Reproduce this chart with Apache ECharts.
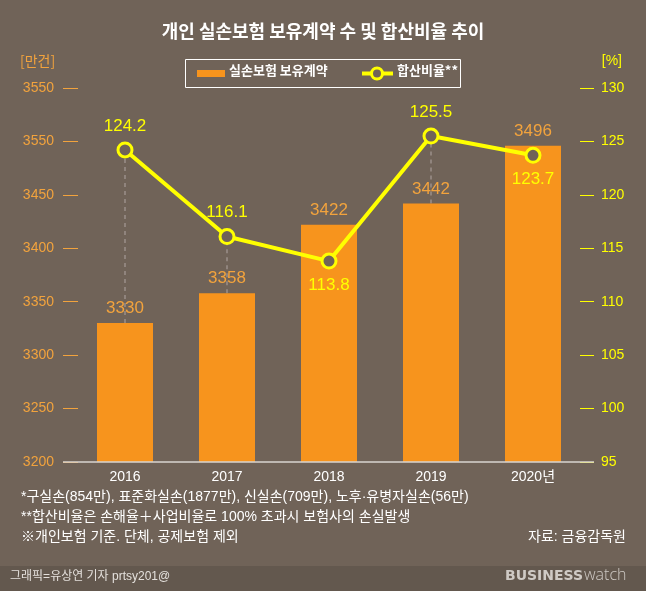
<!DOCTYPE html>
<html><head><meta charset="utf-8">
<script src="https://cdn.jsdelivr.net/npm/echarts@6/dist/echarts.min.js"></script>
<style>html,body{margin:0;padding:0;background:#706358;}#c{width:646px;height:591px;}</style>
</head><body><div id="c"></div>
<script>
const categories = ['2016', '2017', '2018', '2019', '2020년'];
const contracts = [3330, 3358, 3422, 3442, 3496];
const ratio = [124.2, 116.1, 113.8, 125.5, 123.7];
const ratioLabelPos = ['top', 'top', 'bottom', 'top', 'bottom'];
const leftTicks = {3200:'3200',3250:'3250',3300:'3300',3350:'3350',3400:'3400',3450:'3450',3500:'3550',3550:'3550'};
const notes = [
  '*구실손(854만), 표준화실손(1877만), 신실손(709만), 노후·유병자실손(56만)',
  '**합산비율은 손해율＋사업비율로 100% 초과시 보험사의 손실발생',
  '※개인보험 기준. 단체, 공제보험 제외'
];
const source = '자료: 금융감독원';
const credit = '그래픽=유상연 기자 prtsy201@';
const title = '개인 실손보험 보유계약 수 및 합산비율 추이';

const F = '"Noto Sans CJK KR", "Noto Sans", sans-serif';
const FL = '"Liberation Sans", "Noto Sans CJK KR", sans-serif';
const BG = '#706358';
const ORANGE = '#f7941d';
const ORANGE_TXT = '#f2a33d';
const YELLOW = '#ffff00';

// left 3200..3550 maps to right 95..130
const toRight = v => 95 + (v - 3200) / 10;
const dashData = [];
categories.forEach((c, i) => {
  const top = toRight(contracts[i]);
  if (ratio[i] > top) dashData.push([{xAxis: i, yAxis: top}, {xAxis: i, yAxis: ratio[i]}]);
});

const chart = echarts.init(document.getElementById('c'));
chart.setOption({
  backgroundColor: BG,
  animation: false,
  textStyle: {fontFamily: F},
  title: {text: title, left: 'center', top: 17, textStyle: {color: '#fff', fontSize: 18, fontWeight: 'bold', fontFamily: F}},
  grid: {left: 74, right: 62, top: 88, bottom: 129},
  xAxis: {
    type: 'category', data: categories,
    axisLine: {show: false}, axisTick: {show: false},
    axisLabel: {color: '#fff', fontSize: 14, margin: 8, fontFamily: FL}
  },
  yAxis: [{
    type: 'value', min: 3200, max: 3550, interval: 50, offset: -4,
    splitLine: {show: false},
    axisLine: {show: false},
    axisTick: {show: true, length: 15, lineStyle: {color: ORANGE_TXT, width: 1}},
    axisLabel: {color: ORANGE_TXT, fontSize: 14, margin: 24, formatter: v => leftTicks[v] ?? v, fontFamily: FL}
  }, {
    type: 'value', min: 95, max: 130, interval: 5, offset: -4,
    splitLine: {show: false},
    axisLine: {show: false},
    axisTick: {show: true, length: 14, lineStyle: {color: YELLOW, width: 1}},
    axisLabel: {color: YELLOW, fontSize: 14, margin: 21, fontFamily: FL}
  }],
  series: [{
    type: 'bar', data: contracts, barWidth: 56, yAxisIndex: 0,
    itemStyle: {color: ORANGE},
    label: {show: true, position: 'top', distance: 6, color: ORANGE_TXT, fontSize: 17, fontFamily: FL}
  }, {
    type: 'line', yAxisIndex: 1, z: 5,
    data: ratio.map((v, i) => ({value: v, label: {position: ratioLabelPos[i]}})),
    symbol: 'circle', symbolSize: 14,
    lineStyle: {color: YELLOW, width: 4},
    itemStyle: {color: BG, borderColor: YELLOW, borderWidth: 3},
    label: {show: true, color: YELLOW, fontSize: 17, distance: 7, fontFamily: FL},
    markLine: {
      silent: true, symbol: 'none', z: 1,
      lineStyle: {type: [4, 4], color: '#9b9089', width: 1.5},
      label: {show: false},
      data: dashData
    }
  }],
  graphic: [
    {type: 'rect', left: 0, top: 566, shape: {width: 646, height: 25}, style: {fill: '#63584e'}, z: -1},
    {type: 'line', shape: {x1: 63, y1: 462, x2: 594, y2: 462}, style: {stroke: '#d8d4d0', lineWidth: 1.5}, z: 10},
    {type: 'text', left: 20, top: 54, style: {text: '[만건]', fill: ORANGE_TXT, fontSize: 14, fontFamily: F}},
    {type: 'text', right: 24, top: 54, style: {text: '[%]', fill: YELLOW, fontSize: 14, fontFamily: FL}},
    {type: 'rect', shape: {x: 185.5, y: 59.5, width: 275, height: 28}, style: {fill: 'none', stroke: '#fff', lineWidth: 1}},
    {type: 'rect', shape: {x: 197, y: 70, width: 28, height: 7}, style: {fill: ORANGE}},
    {type: 'text', left: 229, top: 64, style: {text: '실손보험 보유계약', fill: '#fff', fontSize: 13, fontWeight: 'bold', fontFamily: F}},
    {type: 'line', shape: {x1: 362, y1: 73.5, x2: 393, y2: 73.5}, style: {stroke: YELLOW, lineWidth: 4}},
    {type: 'circle', shape: {cx: 377, cy: 73.5, r: 5.5}, style: {fill: BG, stroke: YELLOW, lineWidth: 3}},
    {type: 'text', left: 397, top: 64, style: {text: '합산비율**', fill: '#fff', fontSize: 13, fontWeight: 'bold', fontFamily: F}},
    {type: 'text', left: 21, top: 490, style: {text: notes[0], fill: '#fff', fontSize: 14, fontFamily: FL}},
    {type: 'text', left: 21, top: 510, style: {text: notes[1], fill: '#fff', fontSize: 14, fontFamily: FL}},
    {type: 'text', left: 21, top: 530, style: {text: notes[2], fill: '#fff', fontSize: 14, fontFamily: FL}},
    {type: 'text', right: 20, top: 530, style: {text: source, fill: '#fff', fontSize: 14, fontFamily: FL}},
    {type: 'text', left: 10, top: 571, style: {text: credit, fill: '#e4e0dc', fontSize: 12, fontFamily: FL}},
    {type: 'text', left: 505, top: 569, style: {text: 'BUSINESS', fill: '#cfcac5', fontSize: 14, fontWeight: 'bold', fontFamily: '"DejaVu Sans", sans-serif'}},
    {type: 'text', left: 584, top: 567, style: {text: 'watch', fill: '#cfcac5', fontSize: 16, fontFamily: '"Open Sans", sans-serif', fontWeight: 300}}
  ]
});
</script></body></html>
